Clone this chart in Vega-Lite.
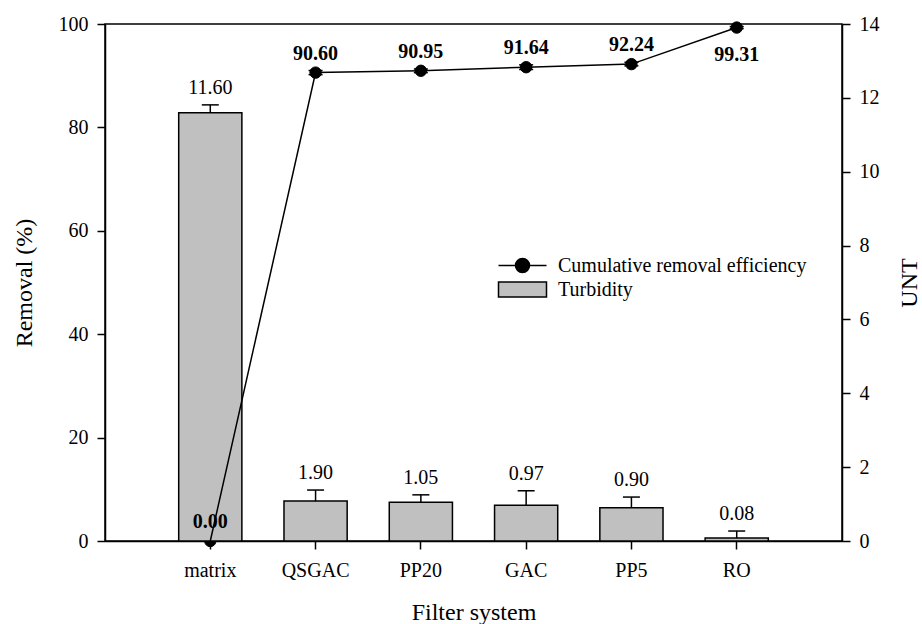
{
  "$schema": "https://vega.github.io/schema/vega-lite/v6.json",
  "width": 737,
  "height": 517,
  "autosize": {"type": "none"},
  "padding": {"left": 105, "top": 24, "right": 80, "bottom": 83},
  "background": "white",
  "data": {
    "values": [
      {"system": "matrix", "removal": 0, "removal_lo": 0, "removal_hi": 0, "unt": 11.6, "unt_hi": 11.81, "unt_label": "11.60"},
      {"system": "QSGAC", "removal": 90.6, "removal_lo": 90.2, "removal_hi": 91.0, "unt": 1.08, "unt_hi": 1.38, "unt_label": "1.90"},
      {"system": "PP20", "removal": 90.95, "removal_lo": 90.6, "removal_hi": 91.3, "unt": 1.05, "unt_hi": 1.25, "unt_label": "1.05"},
      {"system": "GAC", "removal": 91.64, "removal_lo": 91.2, "removal_hi": 92.1, "unt": 0.97, "unt_hi": 1.36, "unt_label": "0.97"},
      {"system": "PP5", "removal": 92.24, "removal_lo": 91.9, "removal_hi": 92.6, "unt": 0.9, "unt_hi": 1.19, "unt_label": "0.90"},
      {"system": "RO", "removal": 99.31, "removal_lo": 99.1, "removal_hi": 99.5, "unt": 0.08, "unt_hi": 0.27, "unt_label": "0.08"}
    ]
  },
  "encoding": {
    "x": {
      "field": "system",
      "type": "nominal",
      "sort": null,
      "scale": {"paddingInner": 0.4, "paddingOuter": 0.7},
      "axis": {"title": "Filter system", "labelAngle": 0, "labelPadding": 11, "titlePadding": 20}
    }
  },
  "layer": [
    {
      "encoding": {
        "y": {
          "field": "removal",
          "type": "quantitative",
          "scale": {"domain": [0, 100], "nice": false},
          "axis": null
        }
      },
      "layer": [
        {
          "mark": {"type": "rule", "stroke": "black", "strokeWidth": 1.5},
          "encoding": {"y": {"field": "removal_lo", "type": "quantitative"}, "y2": {"field": "removal_hi"}}
        },
        {
          "mark": {"type": "tick", "color": "black", "thickness": 1.5, "size": 14, "opacity": 1, "orient": "horizontal"},
          "encoding": {"y": {"field": "removal_lo", "type": "quantitative"}}
        },
        {
          "mark": {"type": "tick", "color": "black", "thickness": 1.5, "size": 14, "opacity": 1, "orient": "horizontal"},
          "encoding": {"y": {"field": "removal_hi", "type": "quantitative"}}
        },
        {
          "mark": {"type": "point", "filled": true, "size": 130, "opacity": 1, "stroke": "black", "strokeWidth": 1},
          "encoding": {"fill": {"datum": "Cumulative removal efficiency", "type": "nominal"}}
        }
      ]
    },
    {
      "encoding": {
        "y": {
          "field": "unt",
          "type": "quantitative",
          "scale": {"domain": [0, 14], "nice": false, "zero": true},
          "axis": {"orient": "right", "title": "UNT", "values": [0, 2, 4, 6, 8, 10, 12, 14], "labelPadding": 9, "titleAngle": -90, "titleBaseline": "top", "titlePadding": 18}
        }
      },
      "layer": [
        {
          "mark": {"type": "bar", "stroke": "black", "strokeWidth": 1.5, "opacity": 1},
          "encoding": {
            "fill": {
              "datum": "Turbidity",
              "type": "nominal",
              "scale": {"domain": ["Cumulative removal efficiency", "Turbidity"], "range": ["black", "#c0c0c0"]},
              "legend": {
                "title": null,
                "orient": "none",
                "legendX": 404,
                "legendY": 228,
                "symbolSize": 625,
                "rowPadding": 0,
                "labelOffset": 22,
                "labelLimit": 0,
                "labelFontSize": 20,
                "labelFont": "Liberation Serif",
                "labelColor": "black",
                "symbolStrokeColor": "black",
                "symbolStrokeWidth": 1.5,
                "symbolOpacity": 1,
                "encode": {
                  "symbols": {
                    "update": {
                      "shape": {"signal": "datum.label === 'Turbidity' ? 'M-1.92,-0.6H1.92V0.6H-1.92Z' : 'M-1.92,0H1.92M-0.56,0A0.56,0.56,0,1,0,0.56,0A0.56,0.56,0,1,0,-0.56,0Z'"},
                      "stroke": {"value": "black"},
                      "strokeWidth": {"value": 1.5},
                      "opacity": {"value": 1}
                    }
                  }
                }
              }
            }
          }
        },
        {
          "mark": {"type": "rule", "stroke": "black", "strokeWidth": 1.5},
          "encoding": {"y2": {"field": "unt_hi"}}
        },
        {
          "mark": {"type": "tick", "color": "black", "thickness": 1.5, "size": 17, "opacity": 1, "orient": "horizontal"},
          "encoding": {"y": {"field": "unt_hi", "type": "quantitative"}}
        },
        {
          "mark": {"type": "text", "fontSize": 20, "font": "Liberation Serif", "color": "black", "baseline": "alphabetic", "dy": -11},
          "encoding": {"y": {"field": "unt_hi", "type": "quantitative"}, "text": {"field": "unt_label"}}
        }
      ]
    },
    {
      "encoding": {
        "y": {
          "field": "removal",
          "type": "quantitative",
          "scale": {"domain": [0, 100], "nice": false},
          "axis": {"orient": "left", "title": "Removal (%)", "values": [0, 20, 40, 60, 80, 100], "labelPadding": 9, "titlePadding": 22}
        }
      },
      "layer": [
        {
          "mark": {"type": "line", "color": "black", "strokeWidth": 1.5},
          "encoding": {}
        },
        {
          "transform": [{"filter": "datum.system !== 'RO'"}],
          "mark": {"type": "text", "fontSize": 20, "font": "Liberation Serif", "fontWeight": "bold", "color": "black", "baseline": "alphabetic", "dy": -13},
          "encoding": {"text": {"field": "removal", "type": "quantitative", "format": ".2f"}}
        },
        {
          "transform": [{"filter": "datum.system === 'RO'"}],
          "mark": {"type": "text", "fontSize": 20, "font": "Liberation Serif", "fontWeight": "bold", "color": "black", "baseline": "alphabetic", "dy": 33},
          "encoding": {"text": {"field": "removal", "type": "quantitative", "format": ".2f"}}
        }
      ]
    }
  ],
  "resolve": {"scale": {"y": "independent"}},
  "config": {
    "font": "Liberation Serif",
    "view": {"stroke": "black", "strokeWidth": 1.5},
    "axis": {
      "grid": false,
      "domainColor": "black",
      "domainWidth": 1.5,
      "tickColor": "black",
      "tickWidth": 1.5,
      "tickSize": 8,
      "labelColor": "black",
      "labelFont": "Liberation Serif",
      "labelFontSize": 20,
      "titleFont": "Liberation Serif",
      "titleFontSize": 24,
      "titleFontWeight": "normal",
      "titleColor": "black"
    }
  }
}
